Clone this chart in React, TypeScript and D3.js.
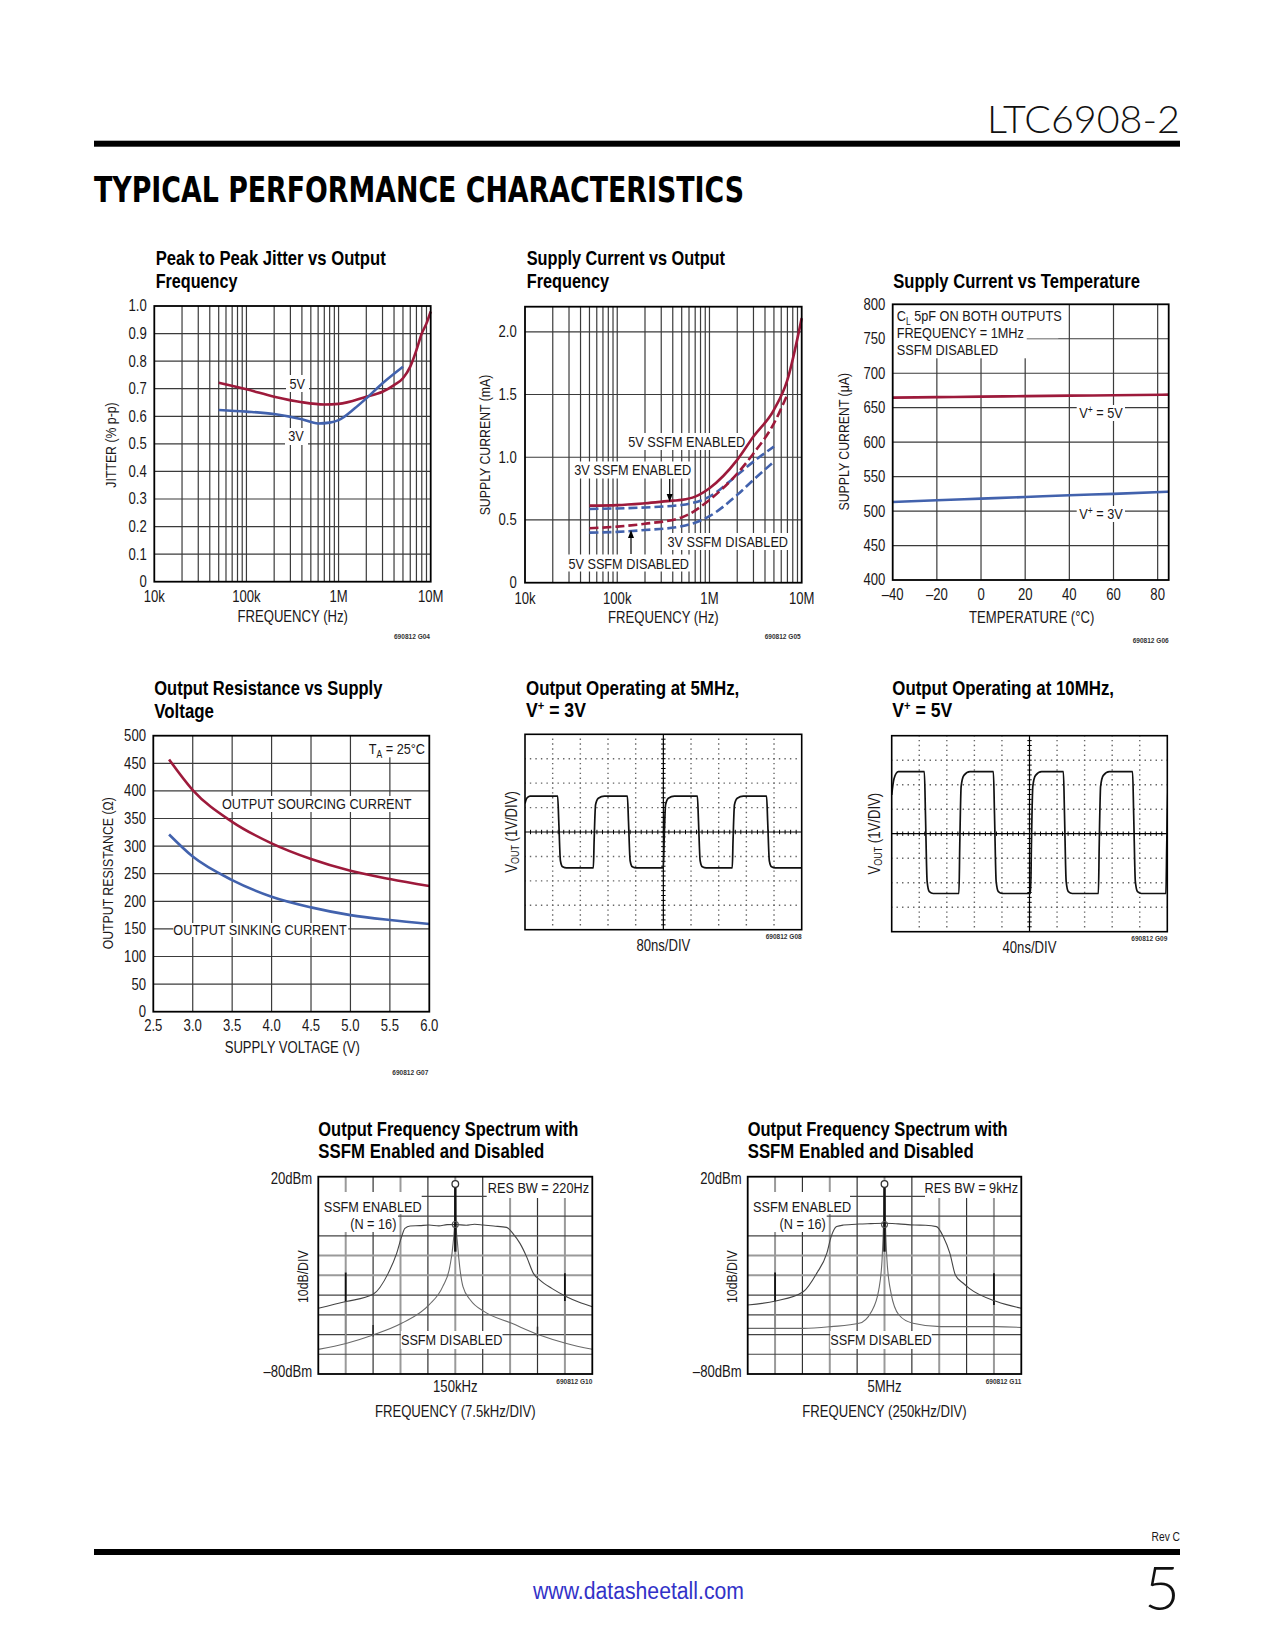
import React from "react";
import * as d3 from "d3";

const NFONT = "'Liberation Sans', Arial, Helvetica, sans-serif";
const SX = 0.82;
const HFONT = "'DejaVu Sans Condensed','DejaVu Sans',sans-serif";
const INK = "#1a1718";
const RED = "#9d1a3b";
const BLUE = "#4262ad";
const GRID = "#3b3b3b";

// ---------------- data ----------------
// Peak to peak jitter vs output frequency
const jitterFreq5V = [50e3, 100e3, 200e3, 400e3, 700e3, 1e6, 2e6, 3e6, 4e6, 5e6, 6e6, 7e6, 8e6, 9e6, 10e6];
const jitter5V = [0.722, 0.698, 0.671, 0.651, 0.643, 0.645, 0.671, 0.689, 0.713, 0.738, 0.78, 0.84, 0.9, 0.937, 0.98];
const jitterFreq3V = [50e3, 100e3, 200e3, 400e3, 600e3, 800e3, 1e6, 1.5e6, 2e6, 3e6, 5e6];
const jitter3V = [0.623, 0.617, 0.608, 0.589, 0.574, 0.577, 0.586, 0.629, 0.665, 0.72, 0.78];

// Supply current vs output frequency (mA)
const scFreq5VEn = [50e3, 100e3, 200e3, 400e3, 500e3, 700e3, 1e6, 2e6, 3e6, 5e6, 7e6, 10e6];
const sc5VEn = [0.614, 0.618, 0.633, 0.654, 0.66, 0.686, 0.753, 0.979, 1.165, 1.378, 1.617, 2.109];
const scFreq3VEn = [50e3, 100e3, 200e3, 500e3, 1e6, 2e6, 3e6, 5e6];
const sc3VEn = [0.588, 0.592, 0.6, 0.62, 0.686, 0.859, 0.965, 1.085];
const scFreq5VDis = [50e3, 100e3, 200e3, 500e3, 1e6, 2e6, 3e6, 5e6, 7e6];
const sc5VDis = [0.434, 0.447, 0.47, 0.52, 0.66, 0.87, 1.03, 1.27, 1.5];
const scFreq3VDis = [50e3, 100e3, 200e3, 500e3, 1e6, 2e6, 3e6, 5e6];
const sc3VDis = [0.399, 0.405, 0.42, 0.45, 0.53, 0.7, 0.82, 0.965];

// Supply current vs temperature (uA)
const tempC = [-40, -20, 0, 20, 40, 60, 85];
const scTemp5V = [664.6, 665.3, 666, 666.8, 667.5, 668, 669];
const scTemp3V = [513.2, 515.6, 518, 520.4, 522.9, 525, 528.2];

// Output resistance vs supply voltage (ohm)
const supplyV = [2.7, 3.0, 3.5, 4.0, 4.5, 5.0, 5.5, 6.0];
const resSourcing = [457, 401.6, 344, 305, 276.6, 255.4, 240.3, 227.6];
const resSinking = [321, 281, 238.5, 208.3, 189, 175, 166, 159];

// Scope traces: edge times (div) and levels (div)
const scope5Edges = [1.18, 2.47, 3.7, 5.0, 6.23, 7.49, 8.73];
const scope5High = 1.47;
const scope5Low = -1.47;
const scope10Edges = [1.185, 2.44, 3.69, 5.04, 6.23, 7.5, 8.74, 9.95];
const scope10High = 2.53;
const scope10Low = -2.44;

// Spectrum 1 (150kHz, 7.5kHz/DIV), x in divisions, y in dBm
const spec1EnX = [0, 1.01, 2.0, 2.55, 2.86, 3.04, 3.16, 3.35, 3.7, 4.04, 4.4, 4.7, 5.0, 5.4, 5.7, 6.02, 6.4, 6.87, 7.12, 7.36, 7.6, 7.85, 8.09, 8.52, 9.06, 9.5, 10];
const spec1EnY = [-46.7, -43.3, -39.6, -29.0, -18.9, -10.4, -6.2, -5.0, -4.8, -4.5, -4.9, -4.3, -4.2, -4.6, -4.1, -4.5, -5.0, -5.7, -9.1, -13.8, -20.5, -29.0, -32.4, -36.6, -40.8, -43.5, -45.9];
const spec1DisX = [0, 1.01, 2.0, 3.04, 4.04, 4.54, 4.8, 4.92, 4.98, 5.0, 5.02, 5.08, 5.16, 5.28, 5.55, 6.06, 7.06, 8.07, 9.06, 10];
const spec1DisY = [-67.5, -64.5, -60.2, -54.3, -45.0, -35.7, -25.6, -13.8, -2, 15.8, -2, -13.8, -25.6, -35.7, -42.5, -48.4, -54.3, -60.2, -64.5, -67.5];
const spec1SpikeX = [1, 9];
const spec1SpikeTop = [-28.6, -28.9];
const spec1SpikeMid = [-43.3, -43.0];
const spec1SpikeBot = [-64.5, -64.5];
const spec1MinorX = [2, 8];
const spec1MinorTop = [-55.2, -56.0];
const spec1MinorBot = [-61.0, -61.0];

// Spectrum 2 (5MHz, 250kHz/DIV)
const spec2EnX = [0, 1.02, 2.03, 2.52, 2.89, 3.05, 3.25, 3.5, 4.07, 4.5, 5.0, 5.5, 6.09, 6.5, 6.9, 7.15, 7.39, 7.59, 7.88, 8.1, 9.1, 10];
const spec2EnY = [-45, -43, -38.3, -29, -18.9, -10.4, -5.3, -4.5, -4.0, -3.8, -3.6, -3.9, -4.5, -4.6, -5.3, -10.4, -18.9, -29.8, -34, -36.6, -43.3, -46.7];
const spec2DisX = [0, 1.02, 2.03, 3.05, 4.07, 4.52, 4.79, 4.91, 4.97, 5.0, 5.03, 5.09, 5.24, 5.53, 6.04, 7.04, 8.05, 9.05, 10];
const spec2DisY = [-56.9, -56.9, -56.9, -56, -54.3, -48.4, -37.4, -22.2, -2, 16, -2, -22.2, -39.1, -50.1, -54.3, -56, -56, -56, -56.4];
const spec2SpikeX = [1, 9];
const spec2SpikeTop = [-28.6, -28.9];
const spec2SpikeMid = [-43.3, -45.0];
const spec2SpikeBot = [-56, -56];
const spec2MinorX: number[] = [];
const spec2MinorTop: number[] = [];
const spec2MinorBot: number[] = [];

const specCarrierPeak = 16.3;
const specEnabledPeak = -4.2;

// ---------------- helpers ----------------
type P = [number, number];
const zip = (a: number[], b: number[]): P[] => a.map((v, i) => [v, b[i]] as P);

function Title({ x, ys, lines, widths }: any) {
  return (
    <g>
      {lines.map((t: any, i: number) => (
        <text key={i} x={x} y={ys[i]} fontFamily={NFONT} fontWeight={700} fontSize={20.5} fill="#000"
          textLength={widths[i] || undefined} lengthAdjust="spacingAndGlyphs">{t}</text>
      ))}
    </g>
  );
}

// narrow text: Liberation Sans squeezed horizontally
function Tx({ x, y, children, anchor = "middle", size = 15, weight = 400, fill = INK, rotate = false, baseline = "central" }: any) {
  const tr = `translate(${x},${y})${rotate ? " rotate(-90)" : ""} scale(${SX},1)`;
  return (
    <text x={0} y={0} transform={tr} textAnchor={anchor} dominantBaseline={baseline} fontSize={size} fontFamily={NFONT}
      fontWeight={weight} fill={fill}>{children}</text>
  );
}

function Code({ x, y, children }: any) {
  return <Tx x={x} y={y} anchor="end" size={8} weight={700} fill="#333">{children}</Tx>;
}

function Box({ x, y, w, h }: any) {
  return <rect x={x} y={y} width={w} height={h} fill="#fff" />;
}

function Frame({ L, R, T, B, w = 1.8 }: any) {
  return <rect x={L} y={T} width={R - L} height={B - T} fill="none" stroke="#000" strokeWidth={w} />;
}

function Arrow({ x, y1, y2 }: any) {
  const dir = y2 > y1 ? 1 : -1;
  return (
    <g>
      <line x1={x} x2={x} y1={y1} y2={y2 - dir * 6} stroke="#000" strokeWidth={1.2} />
      <path d={`M${x - 3},${y2 - dir * 8} L${x + 3},${y2 - dir * 8} L${x},${y2} Z`} fill="#000" />
    </g>
  );
}

const logLabel = (v: number) => (v >= 1e6 ? `${v / 1e6}M` : `${v / 1e3}k`);

// ---------------- chart 1 ----------------
function ChartJitter() {
  const L = 154.3, R = 430.7, T = 306, B = 581.7;
  const x = d3.scaleLog().domain([1e4, 1e7]).range([L, R]);
  const y = d3.scaleLinear().domain([0, 1]).range([B, T]);
  const ln = d3.line<P>().x((d) => x(d[0])).y((d) => y(d[1])).curve(d3.curveMonotoneX);
  return (
    <g>
      <Title x={155.7} ys={[265, 287.7]} lines={["Peak to Peak Jitter vs Output", "Frequency"]} widths={[230, 81.7]} />
      {x.ticks().filter((v) => v > 1e4 && v < 1e7).map((v) => (
        <line key={v} x1={x(v)} x2={x(v)} y1={T} y2={B} stroke={GRID} strokeWidth={1.2} />
      ))}
      {y.ticks(10).slice(1, -1).map((v) => (
        <line key={v} x1={L} x2={R} y1={y(v)} y2={y(v)} stroke={GRID} strokeWidth={1.2} />
      ))}
      <Box x={286} y={375} w={23} h={17} />
      <Box x={285} y={428} w={23} h={17} />
      <path d={ln(zip(jitterFreq5V, jitter5V)) || ""} fill="none" stroke={RED} strokeWidth={2.6} />
      <path d={ln(zip(jitterFreq3V, jitter3V)) || ""} fill="none" stroke={BLUE} strokeWidth={2.6} />
      <Frame L={L} R={R} T={T} B={B} />
      <Tx x={297.3} y={383.3} size={15.5}>5V</Tx>
      <Tx x={296} y={436} size={15.5}>3V</Tx>
      {y.ticks(10).map((v) => (
        <Tx key={v} x={L - 7.5} y={y(v)} anchor="end" size={16}>{v === 0 ? "0" : d3.format(".1f")(v)}</Tx>
      ))}
      {[1e4, 1e5, 1e6, 1e7].map((v) => (
        <Tx key={v} x={x(v)} y={597} size={16}>{logLabel(v)}</Tx>
      ))}
      <Tx x={292.7} y={617} size={16}>FREQUENCY (Hz)</Tx>
      <Tx x={110.7} y={445} rotate size={15}>JITTER (% p-p)</Tx>
      <Code x={430} y={636.7}>690812 G04</Code>
    </g>
  );
}

// ---------------- chart 2 ----------------
function ChartSupplyFreq() {
  const L = 525, R = 801.7, T = 306.7, B = 582.7;
  const x = d3.scaleLog().domain([1e4, 1e7]).range([L, R]);
  const y = d3.scaleLinear().domain([0, 2.2]).range([B, T]);
  const ln = d3.line<P>().x((d) => x(d[0])).y((d) => y(d[1])).curve(d3.curveMonotoneX);
  const yt = y.ticks(5);
  return (
    <g>
      <Title x={526.7} ys={[265, 287.7]} lines={["Supply Current vs Output", "Frequency"]} widths={[198.3, 82.3]} />
      {x.ticks().filter((v) => v > 1e4 && v < 1e7).map((v) => (
        <line key={v} x1={x(v)} x2={x(v)} y1={T} y2={B} stroke={GRID} strokeWidth={1.2} />
      ))}
      {yt.slice(1).map((v) => (
        <line key={v} x1={L} x2={R} y1={y(v)} y2={y(v)} stroke={GRID} strokeWidth={1.2} />
      ))}
      <Box x={626} y={433} w={121} h={17} />
      <Box x={572} y={461.5} w={121} h={17} />
      <Box x={665} y={533} w={127} h={17} />
      <Box x={566} y={554.5} w={126} h={17} />
      <path d={ln(zip(scFreq5VEn, sc5VEn)) || ""} fill="none" stroke={RED} strokeWidth={2.6} />
      <path d={ln(zip(scFreq3VEn, sc3VEn)) || ""} fill="none" stroke={BLUE} strokeWidth={2.6} strokeDasharray="9 4" />
      <path d={ln(zip(scFreq5VDis, sc5VDis)) || ""} fill="none" stroke={RED} strokeWidth={2.6} strokeDasharray="9 4" />
      <path d={ln(zip(scFreq3VDis, sc3VDis)) || ""} fill="none" stroke={BLUE} strokeWidth={2.6} strokeDasharray="9 4" />
      <Frame L={L} R={R} T={T} B={B} />
      <Tx x={686.7} y={441.7} size={15.5}>5V SSFM ENABLED</Tx>
      <Tx x={632.7} y={470} size={15.5}>3V SSFM ENABLED</Tx>
      <Tx x={727.7} y={541.7} size={15.5}>3V SSFM DISABLED</Tx>
      <Tx x={628.7} y={563.3} size={15.5}>5V SSFM DISABLED</Tx>
      <Arrow x={669.7} y1={479} y2={502} />
      <Arrow x={631} y1={554} y2={530} />
      {yt.map((v) => (
        <Tx key={v} x={L - 8.3} y={y(v)} anchor="end" size={16}>{v === 0 ? "0" : d3.format(".1f")(v)}</Tx>
      ))}
      {[1e4, 1e5, 1e6, 1e7].map((v) => (
        <Tx key={v} x={x(v)} y={598.3} size={16}>{logLabel(v)}</Tx>
      ))}
      <Tx x={663.3} y={617.7} size={16}>FREQUENCY (Hz)</Tx>
      <Tx x={485} y={445} rotate size={15}>SUPPLY CURRENT (mA)</Tx>
      <Code x={800.7} y={636.7}>690812 G05</Code>
    </g>
  );
}

// ---------------- chart 3 ----------------
function ChartSupplyTemp() {
  const L = 892.7, R = 1168.7, T = 304.3, B = 580;
  const x = d3.scaleLinear().domain([-40, 85]).range([L, R]);
  const y = d3.scaleLinear().domain([400, 800]).range([B, T]);
  const ln = d3.line<P>().x((d) => x(d[0])).y((d) => y(d[1])).curve(d3.curveMonotoneX);
  const xt = x.ticks(6);
  const yt = y.ticks(8);
  return (
    <g>
      <Title x={893.3} ys={[288.3]} lines={["Supply Current vs Temperature"]} widths={[246.7]} />
      {xt.slice(1).map((v) => (
        <line key={v} x1={x(v)} x2={x(v)} y1={T} y2={B} stroke={GRID} strokeWidth={1.2} />
      ))}
      {yt.slice(1, -1).map((v) => (
        <line key={v} x1={L} x2={R} y1={y(v)} y2={y(v)} stroke={GRID} strokeWidth={1.2} />
      ))}
      <Box x={L} y={T} w={165.6} h={34} />
      <Box x={L} y={T} w={134} h={54} />
      <Box x={1076.7} y={405} w={48.3} h={16} />
      <Box x={1076.7} y={506} w={48.3} h={16} />
      <path d={ln(zip(tempC, scTemp5V)) || ""} fill="none" stroke={RED} strokeWidth={2.6} />
      <path d={ln(zip(tempC, scTemp3V)) || ""} fill="none" stroke={BLUE} strokeWidth={2.6} />
      <Frame L={L} R={R} T={T} B={B} />
      <Tx x={896.7} y={320.7} anchor="start" baseline="auto" size={15.5}>
        C<tspan fontSize={10.5} dy={4}>L</tspan><tspan dy={-4}> 5pF ON BOTH OUTPUTS</tspan>
      </Tx>
      <Tx x={896.7} y={337.5} anchor="start" baseline="auto" size={15.5}>FREQUENCY = 1MHz</Tx>
      <Tx x={896.7} y={354.5} anchor="start" baseline="auto" size={15.5}>SSFM DISABLED</Tx>
      <Tx x={1101} y={418} baseline="auto" size={15.5}>
        V<tspan fontSize={10.5} dy={-5}>+</tspan><tspan dy={5}> = 5V</tspan>
      </Tx>
      <Tx x={1101} y={519.3} baseline="auto" size={15.5}>
        V<tspan fontSize={10.5} dy={-5}>+</tspan><tspan dy={5}> = 3V</tspan>
      </Tx>
      {yt.map((v) => (
        <Tx key={v} x={L - 7.4} y={y(v)} anchor="end" size={16}>{v}</Tx>
      ))}
      {xt.map((v) => (
        <Tx key={v} x={x(v)} y={595} size={16}>{v < 0 ? `\u2013${-v}` : v}</Tx>
      ))}
      <Tx x={1031.7} y={617.3} size={16}>TEMPERATURE (°C)</Tx>
      <Tx x={844} y={441.7} rotate size={15}>SUPPLY CURRENT (μA)</Tx>
      <Code x={1168.7} y={640}>690812 G06</Code>
    </g>
  );
}

// ---------------- chart 4 ----------------
function ChartResistance() {
  const L = 153.3, R = 429.3, T = 735.7, B = 1011.7;
  const x = d3.scaleLinear().domain([2.5, 6]).range([L, R]);
  const y = d3.scaleLinear().domain([0, 500]).range([B, T]);
  const ln = d3.line<P>().x((d) => x(d[0])).y((d) => y(d[1])).curve(d3.curveMonotoneX);
  const xt = x.ticks(7);
  const yt = y.ticks(10);
  return (
    <g>
      <Title x={154.3} ys={[695, 718.3]} lines={["Output Resistance vs Supply", "Voltage"]} widths={[228, 59.7]} />
      {xt.slice(1, -1).map((v) => (
        <line key={v} x1={x(v)} x2={x(v)} y1={T} y2={B} stroke={GRID} strokeWidth={1.2} />
      ))}
      {yt.slice(1, -1).map((v) => (
        <line key={v} x1={L} x2={R} y1={y(v)} y2={y(v)} stroke={GRID} strokeWidth={1.2} />
      ))}
      <Box x={365} y={T} w={63} h={21.6} />
      <Box x={225} y={796} w={183.3} h={16} />
      <Box x={173.3} y={923} w={175} h={14} />
      <path d={ln(zip(supplyV, resSourcing)) || ""} fill="none" stroke={RED} strokeWidth={2.6} />
      <path d={ln(zip(supplyV, resSinking)) || ""} fill="none" stroke={BLUE} strokeWidth={2.6} />
      <Frame L={L} R={R} T={T} B={B} />
      <Tx x={425} y={753.5} anchor="end" baseline="auto" size={15.5}>
        T<tspan fontSize={10.5} dy={4}>A</tspan><tspan dy={-4}> = 25°C</tspan>
      </Tx>
      <Tx x={316.7} y={803.3} size={15.5}>OUTPUT SOURCING CURRENT</Tx>
      <Tx x={260} y={930} size={15.5}>OUTPUT SINKING CURRENT</Tx>
      {yt.map((v) => (
        <Tx key={v} x={L - 7.3} y={y(v)} anchor="end" size={16}>{v}</Tx>
      ))}
      {xt.map((v) => (
        <Tx key={v} x={x(v)} y={1026} size={16}>{d3.format(".1f")(v)}</Tx>
      ))}
      <Tx x={292.3} y={1047.7} size={16}>SUPPLY VOLTAGE (V)</Tx>
      <Tx x={108.3} y={873.3} rotate size={15}>OUTPUT RESISTANCE (Ω)</Tx>
      <Code x={428.3} y={1072.7}>690812 G07</Code>
    </g>
  );
}

// ---------------- scope ----------------
function scopeTrace(edges: number[], hi: number, lo: number, start: number, settle: number): P[] {
  const pts: P[] = [[0, start], [settle * 0.35, hi - (hi - start) * 0.3], [settle, hi]];
  let lvl = hi;
  edges.forEach((t) => {
    const to = lvl === hi ? lo : hi;
    const d = to - lvl;
    if (to === lo) {
      pts.push([t, lvl], [t + 0.04, lvl + 0.35 * d], [t + 0.1, lvl + 0.9 * d], [t + 0.18, lvl + 0.985 * d], [t + 0.32, to]);
    } else {
      pts.push([t, lvl], [t + 0.03, lvl + 0.4 * d], [t + 0.08, lvl + 0.88 * d], [t + 0.18, lvl + 0.97 * d], [t + 0.4, to]);
    }
    lvl = to;
  });
  pts.push([10.6, lvl]);
  return pts;
}

function Scope({ id, L, R, T, B, edges, hi, lo, start, settle, title, titleW, vlabel, ylabX, timeLabel, code }: any) {
  const x = d3.scaleLinear().domain([0, 10]).range([L, R]);
  const y = d3.scaleLinear().domain([-4, 4]).range([B, T]);
  const dx = (R - L) / 50, dy = (B - T) / 40;
  const ln = d3.line<P>().x((d) => x(d[0])).y((d) => y(d[1])).curve(d3.curveMonotoneX);
  const vx = d3.range(1, 10).filter((i) => i !== 5);
  const hy = d3.range(-3, 4).filter((i) => i !== 0);
  const minor = d3.range(1, 50);
  const minorY = d3.range(1, 40);
  return (
    <g>
      <Title x={title.x} ys={title.ys} lines={[title.line1]} widths={[titleW]} />
      <text x={title.x} y={title.ys[1]} fontFamily={NFONT} fontWeight={700} fontSize={20.5} fill="#000"
        transform={`translate(${title.x * (1 - 0.86)},0) scale(0.86,1)`}>
        V<tspan fontSize={13} dy={-7}>+</tspan><tspan dy={7}> = {vlabel}</tspan>
      </text>
      <defs>
        <clipPath id={id}><rect x={L} y={T} width={R - L} height={B - T} /></clipPath>
      </defs>
      {vx.map((i) => (
        <line key={"v" + i} x1={x(i)} x2={x(i)} y1={T} y2={B} stroke="#666" strokeWidth={1.4}
          strokeDasharray={`1.4 ${dy - 1.4}`} strokeDashoffset={0.7} />
      ))}
      {hy.map((i) => (
        <line key={"h" + i} x1={L} x2={R} y1={y(i)} y2={y(i)} stroke="#666" strokeWidth={1.4}
          strokeDasharray={`1.4 ${dx - 1.4}`} strokeDashoffset={0.7} />
      ))}
      <line x1={L} x2={R} y1={y(0)} y2={y(0)} stroke="#000" strokeWidth={1.2} />
      <line x1={x(5)} x2={x(5)} y1={T} y2={B} stroke="#000" strokeWidth={1.2} />
      {minor.map((i) => (
        <line key={"mx" + i} x1={L + i * dx} x2={L + i * dx} y1={y(0) - 2.2} y2={y(0) + 2.2} stroke="#000" strokeWidth={1} />
      ))}
      {minorY.map((i) => (
        <line key={"my" + i} x1={x(5) - 2.2} x2={x(5) + 2.2} y1={T + i * dy} y2={T + i * dy} stroke="#000" strokeWidth={1} />
      ))}
      <path d={ln(scopeTrace(edges, hi, lo, start, settle)) || ""} fill="none" stroke="#111" strokeWidth={1.7} clipPath={`url(#${id})`} />
      <Frame L={L} R={R} T={T} B={B} w={1.6} />
      <Tx x={ylabX} y={(T + B) / 2} rotate size={16}>
        V<tspan fontSize={11} dy={3}>OUT</tspan><tspan dy={-3}> (1V/DIV)</tspan>
      </Tx>
      <Tx x={(L + R) / 2} y={B + 15.5} size={16}>{timeLabel}</Tx>
      <Code x={R} y={B + 7}>{code}</Code>
    </g>
  );
}

// ---------------- spectrum ----------------
function Spectrum({ L, R, T, B, d, titleX, res, resBoxX, enBox, disCenter, yLabR, yLabX, center, freq, code }: any) {
  const x = d3.scaleLinear().domain([0, 10]).range([L, R]);
  const y = d3.scaleLinear().domain([-80, 20]).range([B, T]);
  const ln = d3.line<P>().x((p) => x(p[0])).y((p) => y(p[1])).curve(d3.curveMonotoneX);
  const divs = d3.range(1, 10);
  return (
    <g>
      <Title x={titleX} ys={[1136, 1158.3]} lines={["Output Frequency Spectrum with", "SSFM Enabled and Disabled"]} widths={[260, 226]} />
      {divs.map((i) => (
        <line key={"v" + i} x1={x(i)} x2={x(i)} y1={T} y2={B} stroke={i % 2 ? "#9a9a9a" : "#333"} strokeWidth={i % 2 ? 2 : 1.2} />
      ))}
      {divs.map((i) => (
        <line key={"h" + i} x1={L} x2={R} y1={y(-80 + i * 10)} y2={y(-80 + i * 10)}
          stroke={i === 5 || i === 6 ? "#9a9a9a" : "#444"} strokeWidth={i === 5 || i === 6 ? 2 : 1.2} />
      ))}
      <Box x={resBoxX} y={T} w={R - resBoxX} h={21.3} />
      <Box x={L} y={1192} w={enBox[0]} h={22} />
      <Box x={L} y={1192} w={enBox[1]} h={40} />
      <Box x={disCenter - 50.8} y={1331} w={101.6} h={18} />
      {d.spX.map((v: number, i: number) => (
        <g key={"sp" + i}>
          <line x1={x(v)} x2={x(v)} y1={y(d.spMid[i])} y2={y(d.spBot[i])} stroke="#8a8a8a" strokeWidth={1.6} />
          <line x1={x(v)} x2={x(v)} y1={y(d.spTop[i])} y2={y(d.spMid[i])} stroke="#111" strokeWidth={1.8} />
        </g>
      ))}
      {d.mnX.map((v: number, i: number) => (
        <line key={"mn" + i} x1={x(v)} x2={x(v)} y1={y(d.mnTop[i])} y2={y(d.mnBot[i])} stroke="#222" strokeWidth={1.4} />
      ))}
      <path d={ln(zip(d.disX, d.disY)) || ""} fill="none" stroke="#6a6a6a" strokeWidth={1.1} />
      <path d={ln(zip(d.enX, d.enY)) || ""} fill="none" stroke="#444" strokeWidth={1.1} />
      <line x1={x(5)} x2={x(5)} y1={y(specCarrierPeak)} y2={y(-18)} stroke="#111" strokeWidth={2.4} />
      <circle cx={x(5)} cy={y(specCarrierPeak)} r={3.3} fill="#fff" stroke="#333" strokeWidth={1.3} />
      <circle cx={x(5)} cy={y(specEnabledPeak)} r={3} fill="none" stroke="#555" strokeWidth={1.1} />
      <Frame L={L} R={R} T={T} B={B} w={1.8} />
      <Tx x={R - 3.3} y={1187.7} anchor="end" size={15.5}>{res}</Tx>
      <Tx x={L + 54.4} y={1206.7} size={15.5}>SSFM ENABLED</Tx>
      <Tx x={L + 55} y={1223.3} size={15.5}>(N = 16)</Tx>
      <Tx x={disCenter} y={1340} size={15.5}>SSFM DISABLED</Tx>
      <Tx x={yLabR} y={1179} anchor="end" size={16}>20dBm</Tx>
      <Tx x={yLabR} y={1371.7} anchor="end" size={16}>{"\u201380dBm"}</Tx>
      <Tx x={yLabX} y={1276.7} rotate size={15}>10dB/DIV</Tx>
      <Tx x={x(5)} y={1386.7} size={16}>{center}</Tx>
      <Tx x={x(5)} y={1411.7} size={16}>{freq}</Tx>
      <Code x={R} y={1381.7}>{code}</Code>
    </g>
  );
}

export default function App() {
  const spec1 = {
    enX: spec1EnX, enY: spec1EnY, disX: spec1DisX, disY: spec1DisY,
    spX: spec1SpikeX, spTop: spec1SpikeTop, spMid: spec1SpikeMid, spBot: spec1SpikeBot,
    mnX: spec1MinorX, mnTop: spec1MinorTop, mnBot: spec1MinorBot,
  };
  const spec2 = {
    enX: spec2EnX, enY: spec2EnY, disX: spec2DisX, disY: spec2DisY,
    spX: spec2SpikeX, spTop: spec2SpikeTop, spMid: spec2SpikeMid, spBot: spec2SpikeBot,
    mnX: spec2MinorX, mnTop: spec2MinorTop, mnBot: spec2MinorBot,
  };
  return (
    <svg width={1275} height={1650} viewBox="0 0 1275 1650" style={{ position: "absolute", left: 0, top: 0, background: "#fff" }}>
      <rect x={0} y={0} width={1275} height={1650} fill="#fff" />
      {/* header */}
      <text x={1180} y={133} textAnchor="end" fontFamily="Lato, 'Open Sans', sans-serif" fontWeight={300} fontSize={37}
        fill="#111" textLength={193} lengthAdjust="spacingAndGlyphs">LTC6908-2</text>
      <rect x={94} y={140.7} width={1086} height={6} fill="#000" />
      <text x={94} y={202} fontFamily={HFONT} fontWeight={700} fontSize={36} fill="#000" textLength={650}
        lengthAdjust="spacingAndGlyphs">TYPICAL PERFORMANCE CHARACTERISTICS</text>

      <ChartJitter />
      <ChartSupplyFreq />
      <ChartSupplyTemp />
      <ChartResistance />
      <Scope id="clipA" L={525} R={801.7} T={734.3} B={929.7} edges={scope5Edges} hi={scope5High} lo={scope5Low}
        start={1.17} settle={0.18} title={{ x: 526, ys: [695, 716.7], line1: "Output Operating at 5MHz," }} titleW={213.3}
        vlabel="3V" ylabX={511.7} timeLabel="80ns/DIV" code="690812 G08" />
      <Scope id="clipB" L={891.7} R={1167.3} T={735.7} B={931.7} edges={scope10Edges} hi={scope10High} lo={scope10Low}
        start={1.58} settle={0.24} title={{ x: 892.3, ys: [695, 717], line1: "Output Operating at 10MHz," }} titleW={221.7}
        vlabel="5V" ylabX={875} timeLabel="40ns/DIV" code="690812 G09" />
      <Spectrum L={318.3} R={592.3} T={1176.7} B={1374} d={spec1} titleX={318.3} res="RES BW = 220Hz" resBoxX={486.7}
        enBox={[103.4, 79.7]} disCenter={451.7} yLabR={312.3} yLabX={302.7} center="150kHz" freq="FREQUENCY (7.5kHz/DIV)" code="690812 G10" />
      <Spectrum L={747.7} R={1021.3} T={1176.7} B={1374} d={spec2} titleX={747.7} res="RES BW = 9kHz" resBoxX={925}
        enBox={[102.3, 79]} disCenter={881} yLabR={741.7} yLabX={732.3} center="5MHz" freq="FREQUENCY (250kHz/DIV)" code="690812 G11" />

      {/* footer */}
      <Tx x={1180} y={1537} anchor="end" size={12.5}>Rev C</Tx>
      <rect x={94} y={1549} width={1086} height={6} fill="#000" />
      <text x={533} y={1598.5} fontFamily={NFONT} fontSize={23} fill="#3232c8" textLength={211}
        lengthAdjust="spacingAndGlyphs">www.datasheetall.com</text>
      <text x={1180} y={1610} textAnchor="end" fontFamily="Lato, 'Open Sans', sans-serif" fontWeight={300} fontSize={62} fill="#111">5</text>
    </svg>
  );
}
